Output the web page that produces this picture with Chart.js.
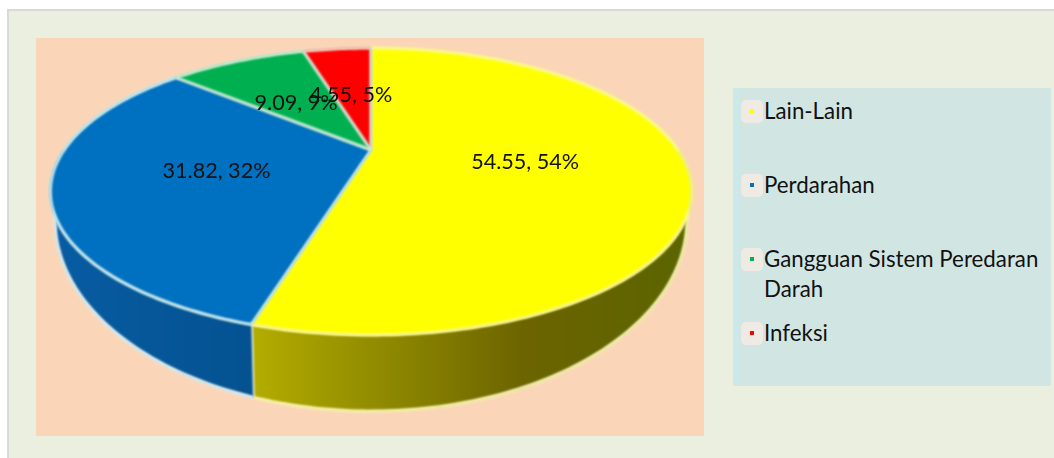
<!DOCTYPE html>
<html>
<head>
<meta charset="utf-8">
<title>Pie</title>
<script src="https://cdn.jsdelivr.net/npm/chart.js@4"></script>
<style>
  html, body { margin: 0; padding: 0; background: #fff; overflow: hidden; }
  #frame { position: absolute; left: 7px; top: 9px; width: 1047px; height: 449px; box-sizing: border-box;
           background: #ebefdf; border: solid #d9d9d9; border-width: 2px 0 0 2px; }
  #plot { position: absolute; left: 36px; top: 38px; width: 668px; height: 398px; background: #fbd5b7; }
  #legendBox { position: absolute; left: 733px; top: 88px; width: 318px; height: 298px; background: #d1e6e3;
               border-left: 6px solid #cce8e8; box-sizing: border-box; }
  #pie { position: absolute; left: 0; top: 0; }
  .item { position: absolute; left: 25px; width: 285px; font: 22.3px/30px Lato, sans-serif; color: #111; }
  .swatch { position: absolute; left: 741px; width: 22px; height: 23px; background: #efebe4; border-radius: 5px; }
  .swatch i { position: absolute; left: 9px; top: 9px; width: 4px; height: 4px; }
</style>
</head>
<body>
<div id="frame"></div>
<div id="plot"></div>
<div id="legendBox"></div>
<canvas id="pie" width="1054" height="458"></canvas>
<script>
const categories = ['Lain-Lain', 'Perdarahan', 'Gangguan Sistem Peredaran Darah', 'Infeksi'];
const values = [54.55, 31.82, 9.09, 4.55];
const percents = [54, 32, 9, 5];
const sliceColors = ['#ffff00', '#0070c0', '#00b050', '#ff0000'];
const rimColors = ['#f9f98c', '#c9eef0', '#c9ecd6', '#f0d0c0'];

// the pie is tilted in perspective, so the top and the bottom face have their own projection
const tilt = 0.289;
const topFace = { cx: 371, cy: 150, rx: 307, ry: 131.5 };
const bottomFace = { cx: 371, cy: 165, rx: 302.5, ry: 175 };

function project(face, angle, f = 1) {
    const x = Math.cos(angle) * f, y = Math.sin(angle) * f, d = 1 - tilt * y;
    return [face.cx + face.rx * x / d, face.cy + face.ry * y / d];
}

function rim(ctx, face, from, to) {
    const steps = Math.max(2, Math.ceil(Math.abs(to - from) * 60));
    for (let i = 0; i <= steps; i++) {
        const p = project(face, from + (to - from) * i / steps);
        ctx.lineTo(p[0], p[1]);
    }
}

function wallFill(ctx, i) {
    if (i === 0) {
        const g = ctx.createLinearGradient(250, 0, 690, 0);
        g.addColorStop(0, '#b4ad00');
        g.addColorStop(0.3, '#8f8a00');
        g.addColorStop(0.62, '#6c6400');
        g.addColorStop(1, '#5b6500');
        return g;
    }
    const g = ctx.createLinearGradient(55, 0, 250, 0);
    g.addColorStop(0, '#085ca2');
    g.addColorStop(1, '#045291');
    return g;
}

const pie3d = {
    id: 'pie3d',
    // replaces the flat arcs, angles still come from the arc elements
    beforeDatasetDraw(chart) {
        const ctx = chart.ctx;
        const arcs = chart.getDatasetMeta(0).data;
        ctx.save();
        ctx.filter = 'blur(0.8px)';
        ctx.lineJoin = 'round';

        // side walls, only the front half shows
        arcs.forEach((arc, i) => {
            const from = Math.max(arc.startAngle, 0), to = Math.min(arc.endAngle, Math.PI);
            if (to <= from) return;
            ctx.beginPath();
            rim(ctx, topFace, from, to);
            rim(ctx, bottomFace, to, from);
            ctx.closePath();
            ctx.fillStyle = wallFill(ctx, i);
            ctx.fill();
            ctx.beginPath();
            rim(ctx, bottomFace, from, to);
            ctx.strokeStyle = i === 0 ? '#fbf6b4' : '#e4f4f4';
            ctx.lineWidth = 3;
            ctx.stroke();
            const a = project(topFace, to), b = project(bottomFace, to);
            if (to < Math.PI) {
                ctx.beginPath();
                ctx.moveTo(a[0], a[1]);
                ctx.lineTo(b[0], b[1]);
                ctx.strokeStyle = '#e6f3d8';
                ctx.lineWidth = 3;
                ctx.stroke();
            }
        });

        // top face
        arcs.forEach((arc, i) => {
            ctx.beginPath();
            ctx.moveTo(topFace.cx, topFace.cy);
            rim(ctx, topFace, arc.startAngle, arc.endAngle);
            ctx.closePath();
            ctx.fillStyle = sliceColors[i];
            ctx.fill();
        });
        arcs.forEach((arc, i) => {
            ctx.beginPath();
            rim(ctx, topFace, arc.startAngle, arc.endAngle);
            ctx.strokeStyle = rimColors[i];
            ctx.lineWidth = 3;
            ctx.stroke();
        });
        arcs.forEach(arc => {
            const p = project(topFace, arc.startAngle);
            ctx.beginPath();
            ctx.moveTo(topFace.cx, topFace.cy);
            ctx.lineTo(p[0], p[1]);
            ctx.strokeStyle = '#c8ead8';
            ctx.lineWidth = 3;
            ctx.stroke();
        });
        ctx.restore();

        // value labels
        ctx.save();
        ctx.font = '21.6px Lato, sans-serif';
        ctx.fillStyle = '#111';
        ctx.textAlign = 'center';
        ctx.textBaseline = 'middle';
        arcs.forEach((arc, i) => {
            const p = project(topFace, (arc.startAngle + arc.endAngle) / 2, 0.5);
            ctx.fillText(values[i] + ', ' + percents[i] + '%', p[0] - 1, p[1] + 2);
        });
        ctx.restore();
        return false;
    }
};

new Chart(document.getElementById('pie').getContext('2d'), {
    type: 'pie',
    data: { labels: categories, datasets: [{ data: values, backgroundColor: sliceColors }] },
    options: {
        responsive: false,
        animation: false,
        plugins: { legend: { display: false }, tooltip: { enabled: false } }
    },
    plugins: [pie3d]
});

// legend
const legendTops = [96, 170, 244, 318];
const box = document.getElementById('legendBox');
categories.forEach((name, i) => {
    const item = document.createElement('div');
    item.className = 'item';
    item.style.top = (legendTops[i] - 88) + 'px';
    item.textContent = name;
    box.appendChild(item);
    const sw = document.createElement('div');
    sw.className = 'swatch';
    sw.style.top = (legendTops[i] + 4) + 'px';
    sw.innerHTML = '<i style="background:' + sliceColors[i] + '"></i>';
    document.body.appendChild(sw);
});
</script>
</body>
</html>
